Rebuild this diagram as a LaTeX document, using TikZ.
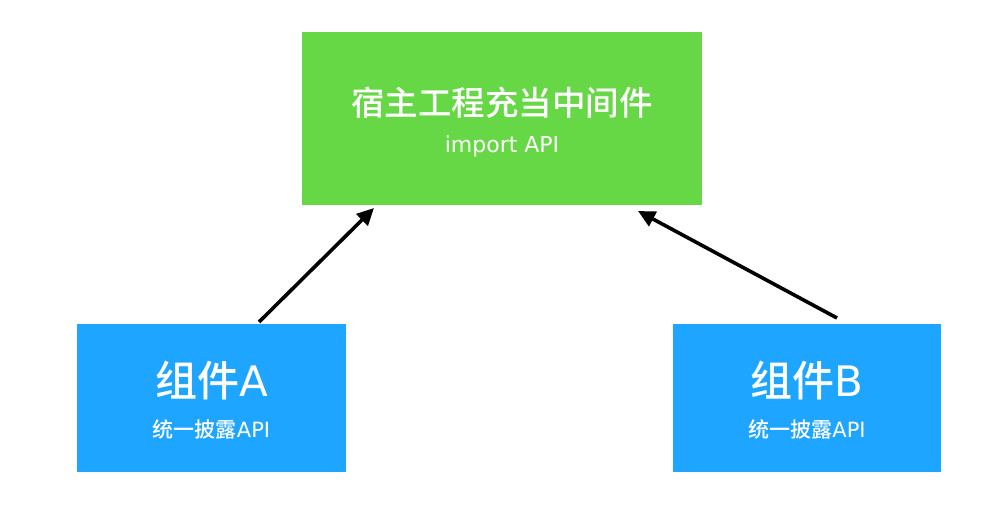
\documentclass[tikz,border=0pt]{standalone}
\usepackage{fontspec}
\setmainfont{Noto Sans CJK SC}[UprightFont=* Medium]
\newfontfamily\lat{DejaVu Sans}
\usetikzlibrary{arrows.meta}
\definecolor{boxgreen}{RGB}{102,215,69}
\definecolor{boxblue}{RGB}{30,165,255}
\tikzset{
  box/.style={draw=none, inner sep=0pt, outer sep=0pt},
  greenbox/.style={box, fill=boxgreen, minimum width=400pt, minimum height=173pt},
  bluebox/.style={box, fill=boxblue, minimum width=268.5pt, minimum height=148pt},
  label/.style={text=white, inner sep=0pt, anchor=base},
  link/.style={line width=3.6pt, -{Triangle[length=17pt,width=16pt]}}
}
\begin{document}
\begin{tikzpicture}[x=1pt,y=1pt]
\useasboundingbox (0,0) rectangle (1006,506);
\node[greenbox] (host) at (502,387.5) {};
\node[bluebox] (compA) at (211.5,108) {};
\node[bluebox] (compB) at (807,108) {};
\node[label, font=\fontsize{33.5}{36}\selectfont] (hosttitle) at (502,390) {宿主工程充当中间件};
\node[label, font=\lat\fontsize{22}{24}\selectfont] (hostsub) at (502,353) {import API};
\node[label, font=\fontsize{42}{46}\selectfont] (titleA) at (211.5,109) {组件{\lat A}};
\node[label, font=\fontsize{21}{24}\selectfont] (subA) at (211.5,69) {统一披露{\lat API}};
\node[label, font=\fontsize{42}{46}\selectfont] (titleB) at (807,109) {组件{\lat B}};
\node[label, font=\fontsize{21}{24}\selectfont] (subB) at (807,69) {统一披露{\lat API}};
\coordinate (aStart) at (259,184);
\coordinate (aEnd) at (374,298);
\coordinate (bStart) at (837,188);
\coordinate (bEnd) at (638,295);
\draw[link] (aStart) -- (aEnd);
\draw[link] (bStart) -- (bEnd);
\end{tikzpicture}
\end{document}
